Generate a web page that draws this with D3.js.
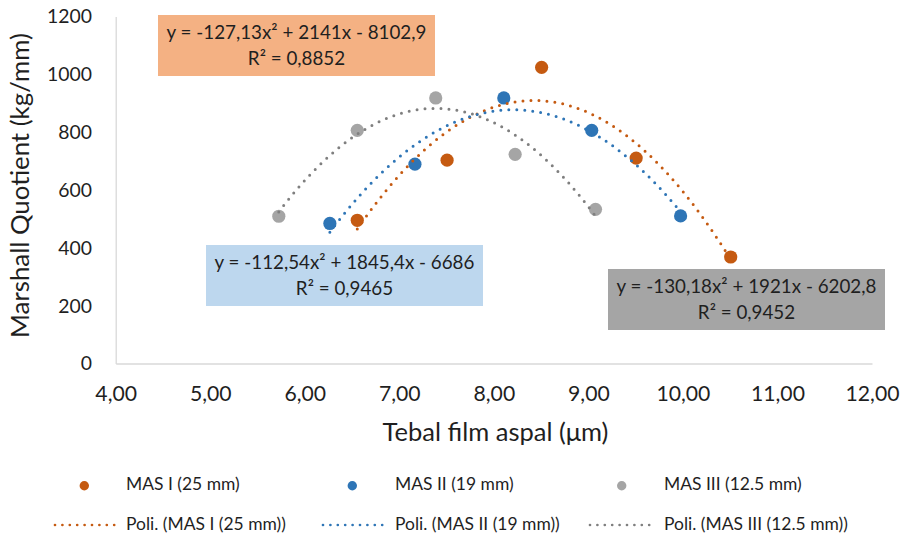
<!DOCTYPE html>
<html>
<head>
<meta charset="utf-8">
<script src="https://cdn.jsdelivr.net/npm/d3@7"></script>
<style>
  html, body { margin: 0; padding: 0; background: #fff; }
  svg { display: block; font-family: Lato, "Open Sans", sans-serif; }
</style>
</head>
<body>
<svg id="chart" width="903" height="535"></svg>
<script>
// ---- data ----
const seriesNames = ["MAS I (25 mm)", "MAS II (19 mm)", "MAS III (12.5 mm)"];
const trendNames = ["Poli. (MAS I (25 mm))", "Poli. (MAS II (19 mm))", "Poli. (MAS III (12.5 mm))"];
const mas1X = [6.55, 7.50, 8.50, 9.50, 10.50];
const mas1Y = [497, 705, 1026, 712, 370];
const mas2X = [6.26, 7.16, 8.10, 9.03, 9.97];
const mas2Y = [486, 691, 920, 808, 512];
const mas3X = [5.72, 6.55, 7.38, 8.22, 9.07];
const mas3Y = [511, 808, 920, 725, 535];
// polynomial trendline coefficients (a x^2 + b x + c) as printed on chart
const trendCoef = [[-127.13, 2141, -8102.9], [-112.54, 1845.4, -6686], [-130.18, 1921, -6202.8]];
const eqLabels = ["y = -127,13x² + 2141x - 8102,9", "y = -112,54x² + 1845,4x - 6686", "y = -130,18x² + 1921x - 6202,8"];
const r2Labels = ["R² = 0,8852", "R² = 0,9465", "R² = 0,9452"];
const xTicks = [4, 5, 6, 7, 8, 9, 10, 11, 12];
const yTicks = [0, 200, 400, 600, 800, 1000, 1200];
const xTitle = "Tebal film aspal (μm)";
const yTitle = "Marshall Quotient (kg/mm)";

// ---- styles / layout ----
const markerColors = ["#C55A11", "#2E75B6", "#A5A5A5"];
const trendColors = ["#C55A11", "#2E75B6", "#7F7F7F"];
const boxColors = ["#F4B183", "#BDD7EE", "#A5A5A5"];
const boxPos = [[158, 15], [206, 245], [608, 269]];
const boxW = 277, boxH = 61;
const textColor = "#1f1f1f";

const svg = d3.select("#chart");
const x = d3.scaleLinear().domain([4, 12]).range([116.2, 872.5]);
const y = d3.scaleLinear().domain([0, 1200]).range([364, 17]);

function fit(sel, target) {
  sel.style("font-size", "20px");
  const len = sel.node().getComputedTextLength();
  const size = 20 * target / len;
  return size;
}

// axes lines
svg.append("line").attr("x1", x(4)).attr("x2", x(4)).attr("y1", y(1200)).attr("y2", y(0))
  .attr("stroke", "#D9D9D9").attr("stroke-width", 1.3);
svg.append("line").attr("x1", x(4)).attr("x2", x(12)).attr("y1", y(0)).attr("y2", y(0))
  .attr("stroke", "#D9D9D9").attr("stroke-width", 1.3);

// tick labels
const probeY = svg.append("text").text("1200");
const ySize = fit(probeY, 45); probeY.remove();
const probeX = svg.append("text").text("5,00");
const xSize = fit(probeX, 41.7); probeX.remove();

svg.append("g").selectAll("text").data(yTicks).join("text")
  .attr("x", 92).attr("y", d => y(d) + 1.5)
  .attr("text-anchor", "end").attr("dominant-baseline", "middle")
  .style("font-size", ySize + "px").attr("fill", textColor)
  .text(d => d);

const fmt = d => d3.format(".2f")(d).replace(".", ",");
svg.append("g").selectAll("text").data(xTicks).join("text")
  .attr("x", d => x(d)).attr("y", 395.5)
  .attr("text-anchor", "middle").attr("dominant-baseline", "middle")
  .style("font-size", xSize + "px").attr("fill", textColor)
  .text(d => fmt(d));

// axis titles
const xt = svg.append("text").text(xTitle);
const xtSize = fit(xt, 226);
xt.attr("x", 495.5).attr("y", 435).attr("text-anchor", "middle").attr("dominant-baseline", "middle")
  .style("font-size", xtSize + "px").attr("fill", textColor);
const yt = svg.append("text").text(yTitle);
const ytSize = fit(yt, 305);
yt.attr("transform", "translate(22,185.5) rotate(-90)").attr("text-anchor", "middle")
  .attr("dominant-baseline", "middle").style("font-size", ytSize + "px").attr("fill", textColor);

// markers
const seriesX = [mas1X, mas2X, mas3X];
const seriesY = [mas1Y, mas2Y, mas3Y];
seriesX.forEach((xs, i) => {
  svg.append("g").selectAll("circle").data(xs.map((v, j) => [v, seriesY[i][j]])).join("circle")
    .attr("cx", d => x(d[0])).attr("cy", d => y(d[1])).attr("r", 6.6)
    .attr("fill", markerColors[i]);
});

// trendlines (from printed polynomial equations)
const line = d3.line().x(d => x(d[0])).y(d => y(d[1])).curve(d3.curveLinear);
seriesX.forEach((xs, i) => {
  const [a, b, c] = trendCoef[i];
  const x0 = d3.min(xs), x1 = d3.max(xs);
  const pts = d3.range(0, 201).map(k => {
    const xv = x0 + (x1 - x0) * k / 200;
    return [xv, a * xv * xv + b * xv + c];
  });
  svg.append("path").datum(pts).attr("d", line)
    .attr("fill", "none").attr("stroke", trendColors[i]).attr("stroke-width", 3)
    .attr("stroke-linecap", "round").attr("stroke-dasharray", "0,8");
});

// equation boxes
const probeE = svg.append("text").text(eqLabels[0]);
const eSize = fit(probeE, 260); probeE.remove();
eqLabels.forEach((eq, i) => {
  const [bx, by] = boxPos[i];
  const g = svg.append("g");
  g.append("rect").attr("x", bx).attr("y", by).attr("width", boxW).attr("height", boxH)
    .attr("fill", boxColors[i]);
  g.append("text").attr("x", bx + boxW / 2).attr("y", by + 23.5).attr("text-anchor", "middle")
    .style("font-size", eSize + "px").attr("fill", textColor).text(eq);
  g.append("text").attr("x", bx + boxW / 2).attr("y", by + 50).attr("text-anchor", "middle")
    .style("font-size", eSize + "px").attr("fill", textColor).text(r2Labels[i]);
});

// legend
const probeL = svg.append("text").text(trendNames[2]);
const lSize = fit(probeL, 184); probeL.remove();
const legMarkX = [84.3, 352.3, 621.7];
const legTextX = [126, 395, 664];
const legLine = [[55, 119], [323, 388], [590, 655]];
seriesNames.forEach((n, i) => {
  svg.append("circle").attr("cx", legMarkX[i]).attr("cy", 485.7).attr("r", 4.7).attr("fill", markerColors[i]);
  svg.append("text").attr("x", legTextX[i]).attr("y", 486).attr("dominant-baseline", "middle")
    .style("font-size", lSize + "px").attr("fill", textColor).text(n);
  svg.append("line").attr("x1", legLine[i][0]).attr("x2", legLine[i][1]).attr("y1", 525).attr("y2", 525)
    .attr("stroke", trendColors[i]).attr("stroke-width", 2.7).attr("stroke-linecap", "round")
    .attr("stroke-dasharray", "0,7.4");
  svg.append("text").attr("x", legTextX[i]).attr("y", 525.5).attr("dominant-baseline", "middle")
    .style("font-size", lSize + "px").attr("fill", textColor).text(trendNames[i]);
});
</script>
</body>
</html>
